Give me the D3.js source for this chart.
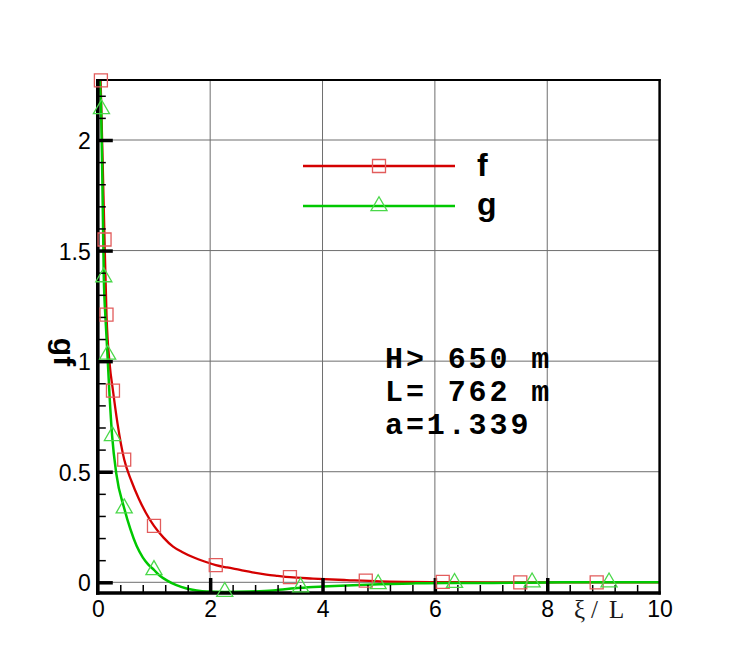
<!DOCTYPE html>
<html><head><meta charset="utf-8">
<script src="https://cdn.jsdelivr.net/npm/d3@7"></script>
<style>body{margin:0;background:#fff}</style></head>
<body>
<svg id="c" width="750" height="667"></svg>
<script>
// ---- data ----
const fLineX = [0.05, 0.085, 0.12, 0.155, 0.21, 0.27, 0.35, 0.47, 0.6, 0.73, 0.85, 1.0, 1.17, 1.34, 1.5, 1.7, 1.9, 2.1, 2.3, 2.53, 2.75, 3.0, 3.2, 3.42, 3.83, 4.43, 5.02, 5.5, 6.1, 7.0, 8.0, 9.0, 10.0];
const fLineY = [2.27, 1.92, 1.55, 1.21, 0.99, 0.867, 0.72, 0.555, 0.457, 0.378, 0.317, 0.255, 0.202, 0.161, 0.137, 0.113, 0.094, 0.078, 0.067, 0.056, 0.045, 0.035, 0.029, 0.023, 0.017, 0.010, 0.004, 0.002, 0.001, 0.0, 0.0, 0.0, 0.0];
const gLineX = [0.035, 0.06, 0.075, 0.107, 0.14, 0.172, 0.21, 0.255, 0.33, 0.47, 0.58, 0.69, 0.8, 0.9, 1.0, 1.1, 1.22, 1.4, 1.58, 1.76, 1.94, 2.26, 2.7, 3.12, 3.6, 4.0, 4.43, 5.02, 5.62, 6.2, 7.0, 8.3, 9.0, 10.0];
const gLineY = [2.27, 2.12, 1.92, 1.38, 1.18, 1.03, 0.84, 0.662, 0.49, 0.335, 0.24, 0.165, 0.113, 0.08, 0.056, 0.031, 0.01, -0.013, -0.028, -0.037, -0.042, -0.044, -0.042, -0.037, -0.025, -0.019, -0.014, -0.009, -0.005, -0.003, -0.003, 0.0, 0.0, 0.0];
const fMarkX = [0.055, 0.12, 0.155, 0.27, 0.47, 1.0, 2.1, 3.42, 4.77, 6.14, 7.52, 8.88];
const fMarkY = [2.27, 1.55, 1.21, 0.867, 0.555, 0.255, 0.078, 0.023, 0.008, 0.002, 0.0, 0.0];
const gMarkX = [0.065, 0.107, 0.175, 0.26, 0.47, 1.0, 2.26, 3.61, 4.99, 6.35, 7.73, 9.1];
const gMarkY = [2.14, 1.38, 1.03, 0.662, 0.335, 0.056, -0.043, -0.022, -0.008, -0.002, 0.0, 0.0];
const xTicks = [0, 2, 4, 6, 8, 10];
const xTickLabels = ["0", "2", "4", "6", "8", "10"];
const yTicks = [0, 0.5, 1, 1.5, 2];
const yTickLabels = ["0", "0.5", "1", "1.5", "2"];
const seriesNames = ["f", "g"];
const annotationLines = ["H> 650 m", "L= 762 m", "a=1.339"];
const yTitle = "gf";
const xTitleParts = ["ξ", "/", "L"];

// ---- layout ----
const svg = d3.select("#c");
const X0 = 97.8, X1 = 659.6, YTOP = 80, YBOT = 593;
const x = d3.scaleLinear().domain([0, 10]).range([X0, X1]);
const y = d3.scaleLinear().domain([0, 2]).range([582.3, 140]);
const RED = "#d40000", GREEN = "#00c800", RED_M = "#e25c5c", GREEN_M = "#4ad84a";

// grid
const grid = svg.append("g").attr("stroke", "#6e6e6e").attr("stroke-width", 1);
grid.selectAll(".gx").data(xTicks.filter(d => d > 0 && d < 10)).join("line")
  .attr("x1", d => x(d)).attr("x2", d => x(d)).attr("y1", YTOP).attr("y2", YBOT);
grid.selectAll(".gy").data(yTicks).join("line")
  .attr("y1", d => y(d)).attr("y2", d => y(d)).attr("x1", X0).attr("x2", X1);

// curves
const line = d3.line().x(d => x(d[0])).y(d => y(d[1])).curve(d3.curveMonotoneX);
const fData = fLineX.map((v, i) => [v, fLineY[i]]);
const gData = gLineX.map((v, i) => [v, gLineY[i]]);
svg.append("path").datum(fData).attr("d", line).attr("fill", "none").attr("stroke", RED).attr("stroke-width", 2.3);
svg.append("path").datum(gData).attr("d", line).attr("fill", "none").attr("stroke", GREEN).attr("stroke-width", 2.5);

// axes ticks (inward)
function styleAxis(g, w) { g.select(".domain").remove(); g.selectAll("line").attr("stroke", "#000").attr("stroke-width", w); g.selectAll("text").remove(); }
const yMinor = d3.range(0, 2.27, 0.1).filter(v => Math.abs(v * 2 - Math.round(v * 2)) > 1e-6);
const xMinor = d3.range(0, 10.01, 0.4).filter(v => Math.abs(v / 2 - Math.round(v / 2)) > 1e-6);
svg.append("g").attr("transform", `translate(${X0},0)`).call(d3.axisRight(y).tickValues(yMinor).tickSize(8)).call(g => styleAxis(g, 1.5));
svg.append("g").attr("transform", `translate(${X0},0)`).call(d3.axisRight(y).tickValues(yTicks).tickSize(15)).call(g => styleAxis(g, 3.5));
svg.append("g").attr("transform", `translate(0,${YBOT})`).call(d3.axisTop(x).tickValues(xMinor).tickSize(8)).call(g => styleAxis(g, 1.5));
svg.append("g").attr("transform", `translate(0,${YBOT})`).call(d3.axisTop(x).tickValues(xTicks.filter(d => d > 0 && d < 10)).tickSize(15)).call(g => styleAxis(g, 3.5));

// frame
const frame = svg.append("g").attr("stroke", "#000");
frame.append("line").attr("x1", X0 - 1.5).attr("x2", X1 + 1).attr("y1", YTOP).attr("y2", YTOP).attr("stroke-width", 2.2);
frame.append("line").attr("x1", X1).attr("x2", X1).attr("y1", YTOP - 1).attr("y2", YBOT + 1.5).attr("stroke-width", 2.5);
frame.append("line").attr("x1", X0).attr("x2", X0).attr("y1", YTOP - 1).attr("y2", YBOT + 1.8).attr("stroke-width", 3.6);
frame.append("line").attr("x1", X0 - 1.8).attr("x2", X1 + 1.2).attr("y1", YBOT).attr("y2", YBOT).attr("stroke-width", 3.6);

// tick labels
const yl = svg.append("g").attr("transform", `translate(${X0},0)`)
  .call(d3.axisLeft(y).tickValues(yTicks).tickSize(0).tickPadding(7).tickFormat((d, i) => yTickLabels[i]));
yl.select(".domain").remove();
yl.selectAll("text").attr("font-family", "'Liberation Sans', Arial, sans-serif").attr("font-size", 23).attr("fill", "#000").attr("dy", "0.37em");
const xl = svg.append("g").attr("transform", `translate(0,${YBOT})`)
  .call(d3.axisBottom(x).tickValues(xTicks).tickSize(0).tickPadding(8).tickFormat((d, i) => xTickLabels[i]));
xl.select(".domain").remove();
xl.selectAll("text").attr("font-family", "'Liberation Sans', Arial, sans-serif").attr("font-size", 23).attr("fill", "#000");

// markers
const sq = d3.symbol().type(d3.symbolSquare).size(169);
const tri = d3.symbol().type(d3.symbolTriangle).size(112);
svg.append("g").selectAll("path").data(fMarkX.map((v, i) => [v, fMarkY[i]])).join("path")
  .attr("d", sq).attr("transform", d => `translate(${x(d[0])},${y(d[1])})`)
  .attr("fill", "none").attr("stroke", RED_M).attr("stroke-width", 1.3);
svg.append("g").selectAll("path").data(gMarkX.map((v, i) => [v, gMarkY[i]])).join("path")
  .attr("d", tri).attr("transform", d => `translate(${x(d[0])},${y(d[1])})`)
  .attr("fill", "none").attr("stroke", GREEN_M).attr("stroke-width", 1.3);

// legend
const legend = [{ name: seriesNames[0], c: RED, m: RED_M, sym: sq, ly: 166, ty: 176 },
                { name: seriesNames[1], c: GREEN, m: GREEN_M, sym: tri, ly: 206, ty: 215 }];
legend.forEach(l => {
  svg.append("line").attr("x1", 303).attr("x2", 455).attr("y1", l.ly).attr("y2", l.ly).attr("stroke", l.c).attr("stroke-width", l.c === RED ? 2.3 : 2.5);
  svg.append("path").attr("d", l.sym).attr("transform", `translate(379,${l.ly})`).attr("fill", "none").attr("stroke", l.m).attr("stroke-width", 1.3);
  svg.append("text").attr("x", 477).attr("y", l.ty).text(l.name)
    .attr("font-family", "'Liberation Sans', Arial, sans-serif").attr("font-weight", "bold").attr("font-size", 32).attr("fill", "#000");
});

// annotation
svg.append("g").selectAll("text").data(annotationLines).join("text")
  .attr("x", 385).attr("y", (d, i) => 367.5 + i * 33).text(d => d)
  .attr("font-family", "'Liberation Mono', 'Courier New', monospace").attr("font-weight", "bold")
  .attr("font-size", 30).attr("letter-spacing", 2.9).attr("fill", "#000").style("white-space", "pre");

// axis titles
svg.append("text").attr("transform", "translate(54,352) rotate(90)").attr("text-anchor", "middle")
  .attr("font-family", "'Liberation Sans', Arial, sans-serif").attr("font-weight", "bold").attr("font-size", 30).attr("fill", "#000").text(yTitle);
const xt = svg.append("text").attr("y", 618.3).attr("font-family", "'Liberation Serif', 'Times New Roman', serif").attr("font-size", 25).attr("fill", "#1a1a1a");
[574, 591, 609].forEach((px, i) => xt.append("tspan").attr("x", px).text(xTitleParts[i]));
</script>
</body></html>
